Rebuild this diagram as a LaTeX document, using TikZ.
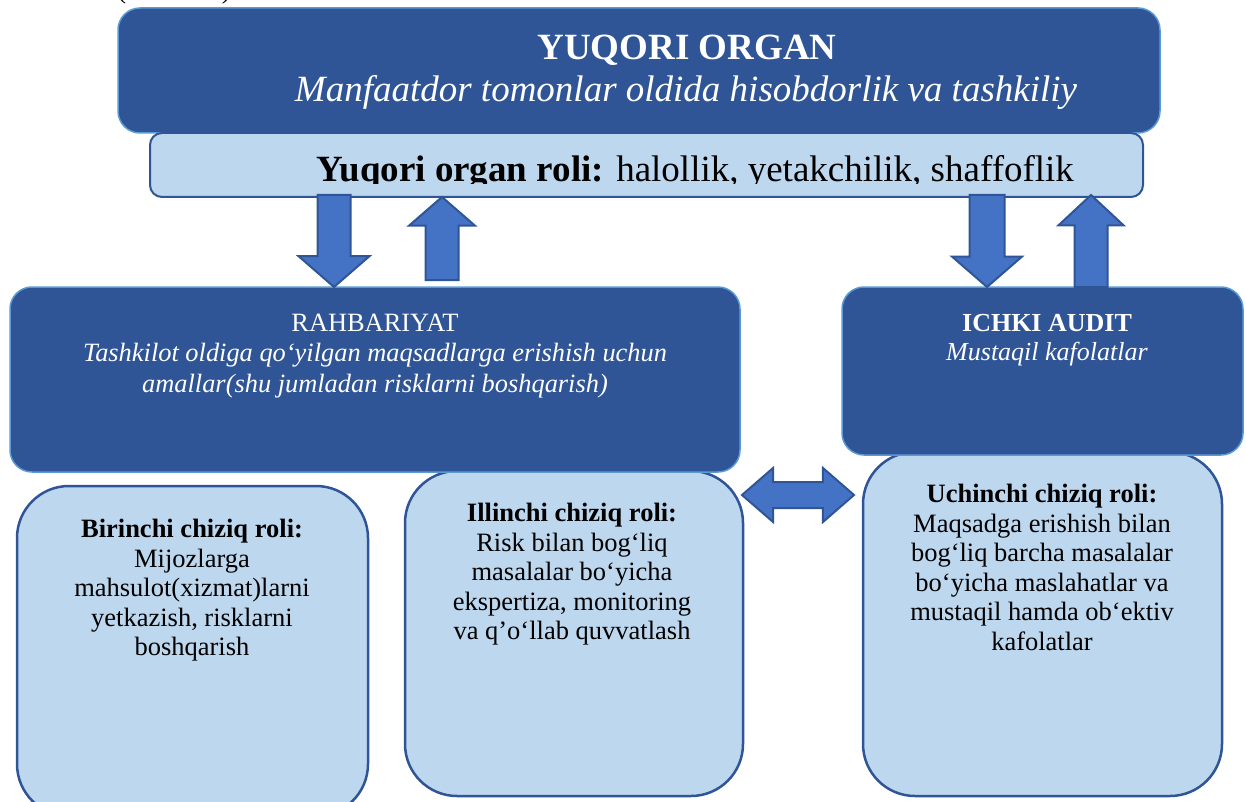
\documentclass[tikz,border=0pt]{standalone}
\usepackage{fontspec}
\setmainfont{Liberation Serif}
\usetikzlibrary{shapes.arrows}
\definecolor{darkfill}{HTML}{2F5597}
\definecolor{lightfill}{HTML}{BDD7EE}
\definecolor{arrowfill}{HTML}{4472C4}
\definecolor{paleedge}{HTML}{5B9BD5}
\tikzset{
  darkbox/.style={draw=paleedge,line width=0.75pt,fill=darkfill,rounded corners=11pt,inner sep=0pt,outer sep=0pt},
  bandbox/.style={draw=darkfill,line width=1pt,fill=lightfill,rounded corners=6pt,inner sep=0pt,outer sep=0pt},
  rolebox/.style={draw=darkfill,line width=1.25pt,fill=lightfill,rounded corners=26pt,inner sep=0pt,outer sep=0pt},
  blockarrow/.style={draw=darkfill,line width=1pt,fill=arrowfill,outer sep=0pt,minimum width=1pt},
  titletext/.style={text=white,inner sep=0pt,font=\fontsize{18.5}{21}\selectfont},
  bandtext/.style={text=black,inner sep=0pt,font=\fontsize{18.5}{21}\selectfont},
  darktext/.style={text=white,align=center,inner sep=0pt,font=\fontsize{13.2}{15.25}\selectfont},
  roletext/.style={text=black,align=center,inner sep=0pt,font=\fontsize{13.25}{14.75}\selectfont}
}
\begin{document}
\begin{tikzpicture}[x=0.5pt,y=-0.5pt]
\useasboundingbox (0,0) rectangle (1246,802);
% lines of defence
\node[rolebox,minimum width=175.5pt,minimum height=165pt] (birinchi) at (192.5,651) {};
\node[rolebox,minimum width=169pt,minimum height=162.5pt] (illinchi) at (574,633.5) {};
\node[rolebox,minimum width=179.5pt,minimum height=172pt] (uchinchi) at (1042.5,624) {};
% dark boxes
\node[darkbox,minimum width=521pt,minimum height=62.5pt] (yuqori) at (639,70.5) {};
\node[bandbox,minimum width=496.5pt,minimum height=32pt] (roli) at (646.5,165) {};
\node[darkbox,minimum width=365pt,minimum height=92.5pt] (rahbar) at (375,379.5) {};
\node[darkbox,minimum width=200.5pt,minimum height=84pt] (ichki) at (1042.5,371) {};
% texts
\node[roletext,anchor=base west] (qavsoch) at (117,-1) {(};
\node[roletext,anchor=base east] (qavsyop) at (231,-1) {)};
\node[titletext,anchor=base] (yuqorinom) at (687,60) {\bfseries YUQORI ORGAN};
\node[titletext,anchor=base] (yuqorimatn) at (686,102) {\itshape Manfaatdor tomonlar oldida hisobdorlik va tashkiliy};
\begin{scope}
\clip (150,133) rectangle (1143,184);
\node[bandtext,anchor=base] (rolimatn) at (695,182) {\textbf{Yuqori organ roli:} halollik, yetakchilik, shaffoflik};
\end{scope}
\node[darktext,anchor=north] (rahbarmatn) at (375,313.5) {RAHBARIYAT\\
  \textit{Tashkilot oldiga qo‘yilgan maqsadlarga erishish uchun}\\
  \textit{amallar(shu jumladan risklarni boshqarish)}};
\node[darktext,anchor=north,font=\fontsize{13}{14.5}\selectfont] (ichkimatn) at (1047,313.5) {\textbf{ICHKI AUDIT}\\
  \textit{Mustaqil kafolatlar}};
\node[roletext,anchor=north] (birinchimatn) at (192,519) {\textbf{Birinchi chiziq roli:}\\
  Mijozlarga\\mahsulot(xizmat)larni\\yetkazish, risklarni\\boshqarish};
\node[roletext,anchor=north] (illinchimatn) at (572,503) {\textbf{Illinchi chiziq roli:}\\
  Risk bilan bog‘liq\\masalalar bo‘yicha\\ekspertiza, monitoring\\va q’o‘llab quvvatlash};
\node[roletext,anchor=north] (uchinchimatn) at (1042,484) {\textbf{Uchinchi chiziq roli:}\\
  Maqsadga erishish bilan\\bog‘liq barcha masalalar\\bo‘yicha maslahatlar va\\mustaqil hamda ob‘ektiv\\kafolatlar};
% block arrows
\node[blockarrow,single arrow,shape border rotate=270,minimum height=46pt,inner sep=7.75pt,
  single arrow head extend=9.5pt,single arrow tip angle=98,anchor=tip] (pastga1) at (334,287) {};
\node[blockarrow,single arrow,shape border rotate=90,minimum height=41.5pt,inner sep=7.75pt,
  single arrow head extend=8.25pt,single arrow tip angle=98,anchor=tail] (yuqoriga1) at (442,280) {};
\node[blockarrow,single arrow,shape border rotate=270,minimum height=46pt,inner sep=8.25pt,
  single arrow head extend=8.75pt,single arrow tip angle=98,anchor=tip] (pastga2) at (987,287) {};
\node[blockarrow,single arrow,shape border rotate=90,minimum height=46pt,inner sep=7.75pt,
  single arrow head extend=8pt,single arrow tip angle=94,anchor=tail] (yuqoriga2) at (1091,287) {};
\node[blockarrow,double arrow,minimum height=56pt,inner sep=6pt,
  double arrow head extend=7pt,double arrow tip angle=82] (ikkitomon) at (798,495) {};
\end{tikzpicture}
\end{document}
